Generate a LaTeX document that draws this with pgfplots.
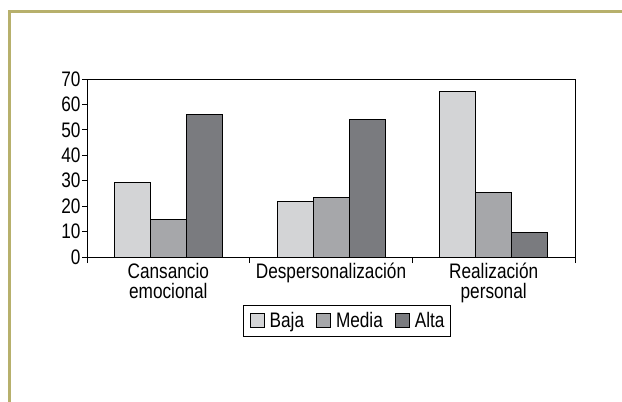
\documentclass[border=0pt]{standalone}
\usepackage{pgfplots}
\pgfplotsset{compat=1.18}
\usepackage{fontspec}
\setmainfont{Liberation Sans}[FakeStretch=0.82]
\definecolor{frameol}{HTML}{B7B06C}
\definecolor{cbaja}{HTML}{D3D4D6}
\definecolor{cmedia}{HTML}{A6A7AA}
\definecolor{calta}{HTML}{7A7B7F}
\begin{document}
\begin{tikzpicture}
\useasboundingbox (0,0) rectangle (622bp,-402bp);
\draw[line width=3bp, frameol] (9.5bp,-402bp) -- (9.5bp,-11.5bp) -- (622bp,-11.5bp);
\begin{axis}[
  at={(87bp,-257bp)}, anchor=south west,
  scale only axis, width=488bp, height=178bp,
  xmin=-0.5, xmax=2.5, ymin=0, ymax=70,
  ybar=0pt, bar width=36bp,
  xtick={0,1,2},
  xticklabels={Cansancio\\emocional, Despersonalización, Realización\\personal},
  minor xtick={-0.5,0.5,1.5,2.5},
  ytick={0,10,...,70},
  major x tick style={draw=none},
  minor tick length=6bp,
  major tick length=5bp,
  tick align=outside,
  tick pos=left,
  /pgf/number format/assume math mode=true,
  ticklabel style={font=\fontsize{21bp}{20bp}\selectfont},
  xticklabel style={align=center, yshift=2bp},
  yticklabel style={xshift=2bp},
  axis line style={line width=0.9bp},
  every tick/.style={black, line width=0.9bp},
  legend columns=3,
  legend style={at={(0.533,-0.27)}, anchor=north, draw=black, line width=0.9bp,
    font=\fontsize{21bp}{20bp}\selectfont,
    nodes={inner sep=0pt},
    /tikz/every odd column/.append style={column sep=5bp},
    /tikz/every even column/.append style={column sep=12bp},
    inner xsep=6bp, inner ysep=7bp},
  legend image code/.code={\draw[#1, draw=black, line width=0.9bp] (0bp,-7bp) rectangle (14bp,7bp);},
]
\addplot[fill=cbaja, draw=black, line width=1bp] coordinates {(0,29.4) (1,22) (2,65)};
\addplot[fill=cmedia, draw=black, line width=1bp] coordinates {(0,14.7) (1,23.4) (2,25.2)};
\addplot[fill=calta, draw=black, line width=1bp] coordinates {(0,56.2) (1,54) (2,9.6)};
\legend{Baja, Media, Alta}
\end{axis}
\end{tikzpicture}
\end{document}
